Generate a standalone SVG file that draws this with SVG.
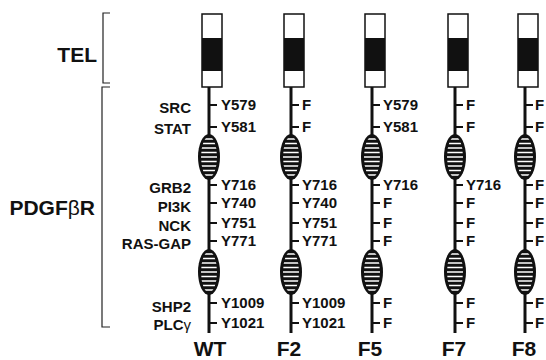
<svg xmlns="http://www.w3.org/2000/svg" xmlns:xlink="http://www.w3.org/1999/xlink" width="546" height="360" viewBox="0 0 546 360">
<style>
text{font-family:"Liberation Sans",Arial,Helvetica,sans-serif;font-weight:bold;fill:#111}
.big{font-size:21px}
.lbl{font-size:15px}
.site{font-size:15px}
.col{font-size:21px;text-anchor:middle}
.end{text-anchor:end}
.sym{font-weight:normal}
.stem{stroke:#111;stroke-width:3;fill:none}
.tick{stroke:#111;stroke-width:2}
.brk{stroke:#222;stroke-width:1.2;fill:none}
.box{fill:#fff;stroke:#111;stroke-width:1.5}
.band{fill:#111}
</style>
<defs>
<clipPath id="inner" clipPathUnits="userSpaceOnUse"><ellipse cx="0" cy="0" rx="8" ry="20.5"/></clipPath>
<g id="oval">
<ellipse cx="0" cy="0" rx="11" ry="23" fill="#111"/>
<g clip-path="url(#inner)" stroke="#fff" stroke-width="1.6">
<line x1="-11" y1="-18" x2="11" y2="-18"/>
<line x1="-11" y1="-13.5" x2="11" y2="-13.5"/>
<line x1="-11" y1="-9" x2="11" y2="-9"/>
<line x1="-11" y1="-4.5" x2="11" y2="-4.5"/>
<line x1="-11" y1="0" x2="11" y2="0"/>
<line x1="-11" y1="4.5" x2="11" y2="4.5"/>
<line x1="-11" y1="9" x2="11" y2="9"/>
<line x1="-11" y1="13.5" x2="11" y2="13.5"/>
<line x1="-11" y1="18" x2="11" y2="18"/>
</g>
</g>
<g id="construct">
<line class="stem" x1="0" y1="86" x2="0" y2="333"/>
<rect class="box" x="-7" y="14" width="20" height="73"/>
<rect class="band" x="-7" y="38" width="20" height="33"/>
<use xlink:href="#oval" x="0" y="157"/>
<use xlink:href="#oval" x="0" y="272"/>
<g class="tick">
<line x1="0" y1="105" x2="8" y2="105"/>
<line x1="0" y1="127" x2="8" y2="127"/>
<line x1="0" y1="185" x2="8" y2="185"/>
<line x1="0" y1="203" x2="8" y2="203"/>
<line x1="0" y1="223" x2="8" y2="223"/>
<line x1="0" y1="241" x2="8" y2="241"/>
<line x1="0" y1="303" x2="8" y2="303"/>
<line x1="0" y1="323" x2="8" y2="323"/>
</g>
</g>
</defs>

<g id="brackets">
<path class="brk" d="M110,13 H103 V83 H110"/>
<path class="brk" d="M110,87 H102 V327 H110"/>
</g>

<g id="labels">
<text class="big end" x="97" y="62">TEL</text>
<text class="big end" x="95" y="215">PDGF<tspan class="sym">β</tspan>R</text>
<g class="lbl">
<text class="end" x="191" y="113">SRC</text>
<text class="end" x="191" y="134">STAT</text>
<text class="end" x="191" y="193">GRB2</text>
<text class="end" x="191" y="212">PI3K</text>
<text class="end" x="191" y="231">NCK</text>
<text class="end" x="191" y="249">RAS-GAP</text>
<text class="end" x="191" y="312">SHP2</text>
<text class="end" x="191" y="330">PLC<tspan class="sym">γ</tspan></text>
</g>
</g>

<g id="WT">
<use xlink:href="#construct" x="209" y="0"/>
<g class="site">
<text x="221" y="110">Y579</text>
<text x="221" y="132">Y581</text>
<text x="221" y="190">Y716</text>
<text x="221" y="208">Y740</text>
<text x="221" y="228">Y751</text>
<text x="221" y="246">Y771</text>
<text x="221" y="308">Y1009</text>
<text x="221" y="328">Y1021</text>
</g>
<text class="col" x="210" y="356">WT</text>
</g>

<g id="F2">
<use xlink:href="#construct" x="291" y="0"/>
<g class="site">
<text x="302" y="110">F</text>
<text x="302" y="132">F</text>
<text x="302" y="190">Y716</text>
<text x="302" y="208">Y740</text>
<text x="302" y="228">Y751</text>
<text x="302" y="246">Y771</text>
<text x="302" y="308">Y1009</text>
<text x="302" y="328">Y1021</text>
</g>
<text class="col" x="289" y="356">F2</text>
</g>

<g id="F5">
<use xlink:href="#construct" x="372" y="0"/>
<g class="site">
<text x="383" y="110">Y579</text>
<text x="383" y="132">Y581</text>
<text x="383" y="190">Y716</text>
<text x="383" y="208">F</text>
<text x="383" y="228">F</text>
<text x="383" y="246">F</text>
<text x="383" y="308">F</text>
<text x="383" y="328">F</text>
</g>
<text class="col" x="370" y="356">F5</text>
</g>

<g id="F7">
<use xlink:href="#construct" x="455" y="0"/>
<g class="site">
<text x="466" y="110">F</text>
<text x="466" y="132">F</text>
<text x="466" y="190">Y716</text>
<text x="466" y="208">F</text>
<text x="466" y="228">F</text>
<text x="466" y="246">F</text>
<text x="466" y="308">F</text>
<text x="466" y="328">F</text>
</g>
<text class="col" x="454" y="356">F7</text>
</g>

<g id="F8">
<use xlink:href="#construct" x="525" y="0"/>
<g class="site">
<text x="535" y="110">F</text>
<text x="535" y="132">F</text>
<text x="535" y="190">F</text>
<text x="535" y="208">F</text>
<text x="535" y="228">F</text>
<text x="535" y="246">F</text>
<text x="535" y="308">F</text>
<text x="535" y="328">F</text>
</g>
<text class="col" x="524" y="356">F8</text>
</g>
</svg>
